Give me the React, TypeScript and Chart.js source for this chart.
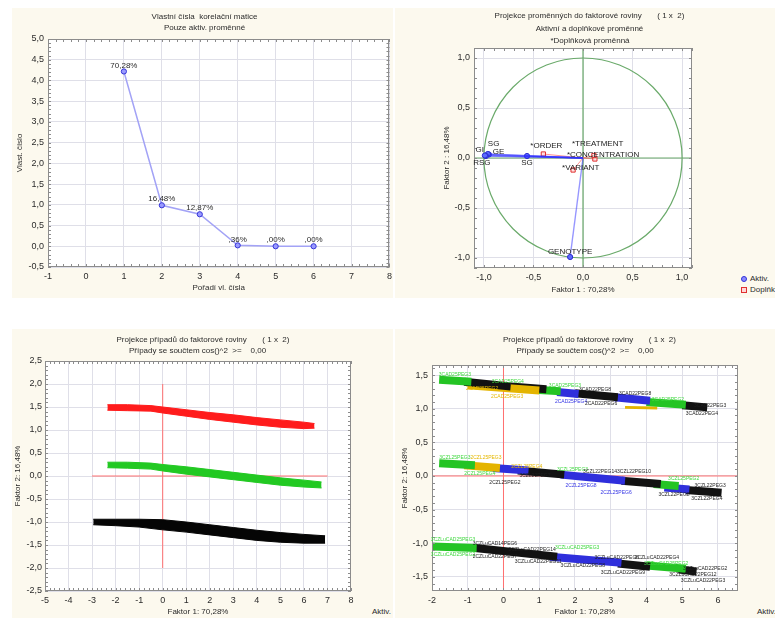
import React, { useEffect, useRef } from "react";
import { Chart, registerables } from "chart.js";

Chart.register(...registerables);

const FONT = '"Liberation Sans", Arial, Helvetica, sans-serif';
const INK = "#2b2b2b";
const CREAM = "#fcf9ee";
const GRID = "#dfdfe8";
const FRAME = "#8c8c8c";

// ===== Panel 1: eigenvalues =====
const eigenOrder = [1, 2, 3, 4, 5, 6];
const eigenValues = [4.217, 0.989, 0.772, 0.022, 0.0, 0.0];
const eigenPctLabels = ["70,28%", "16,48%", "12,87%", ",36%", ",00%", ",00%"];
const eigenXTicks = [-1, 0, 1, 2, 3, 4, 5, 6, 7, 8];
const eigenYTicks = [-0.5, 0, 0.5, 1, 1.5, 2, 2.5, 3, 3.5, 4, 4.5, 5];

// ===== Panel 2: variables projection =====
const activeNames = ["GI", "RSG", "SG", "GE", "SG", "GENOTYPE"];
const activeF1 = [-0.99, -0.98, -0.96, -0.95, -0.565, -0.13];
const activeF2 = [0.025, 0.02, 0.04, 0.035, 0.02, -0.99];
const supplNames = ["*ORDER", "*TREATMENT", "*CONCENTRATION", "*VARIANT"];
const supplF1 = [-0.4, 0.11, 0.12, -0.1];
const supplF2 = [0.04, 0.025, -0.01, -0.12];
const varTicks = [-1, -0.5, 0, 0.5, 1];

// ===== Panel 3: cases (three bands) =====
const caseXTicks = [-5, -4, -3, -2, -1, 0, 1, 2, 3, 4, 5, 6, 7, 8];
const caseYTicks = [-2.5, -2, -1.5, -1, -0.5, 0, 0.5, 1, 1.5, 2, 2.5];
const redF1 = [-2.35, -1.5, -0.5, 0, 1, 2, 3, 4, 5, 6, 6.45];
const redUpper = [1.55, 1.55, 1.53, 1.5, 1.44, 1.38, 1.33, 1.27, 1.22, 1.17, 1.14];
const redLower = [1.43, 1.42, 1.41, 1.37, 1.3, 1.23, 1.17, 1.11, 1.06, 1.03, 1.04];
const greenF1 = [-2.35, -1.5, -0.5, 0, 1, 2, 3, 4, 5, 6, 6.75];
const greenUpper = [0.3, 0.3, 0.28, 0.25, 0.2, 0.14, 0.08, 0.02, -0.04, -0.09, -0.13];
const greenLower = [0.18, 0.17, 0.15, 0.11, 0.04, -0.02, -0.08, -0.14, -0.2, -0.24, -0.26];
const blackF1 = [-2.95, -2, -1, 0, 1, 2, 3, 4, 5, 6, 6.9];
const blackUpper = [-0.94, -0.94, -0.94, -0.95, -1.0, -1.06, -1.12, -1.18, -1.23, -1.27, -1.3];
const blackLower = [-1.06, -1.08, -1.11, -1.17, -1.22, -1.28, -1.34, -1.4, -1.44, -1.46, -1.46];
const crossLines3 = [
  [0, -2, 0, 2],
  [-3, 0, 7, 0],
];

// ===== Panel 4: cases coloured by group =====
const case4XTicks = [-2, -1, 0, 1, 2, 3, 4, 5, 6];
const case4YTicks = [-1.5, -1, -0.5, 0, 0.5, 1, 1.5];
// segments: [startF1, startF2, endF1, endF2]
const topBandSegs = [
  [-1.8, 1.43, -0.9, 1.4],
  [-1.1, 1.4, 0.2, 1.33],
  [-1.0, 1.35, 1.0, 1.27],
  [0.2, 1.33, 1.2, 1.29],
  [1.0, 1.28, 1.6, 1.26],
  [1.5, 1.25, 2.1, 1.22],
  [2.0, 1.23, 3.2, 1.17],
  [3.1, 1.17, 4.1, 1.12],
  [4.0, 1.1, 5.1, 1.06],
  [3.4, 1.02, 4.3, 1.01],
  [5.0, 1.05, 5.7, 1.02],
];
const topBandGroups = ["g", "k", "y", "k", "g", "b", "k", "b", "g", "y", "k"];
const midBandSegs = [
  [-1.8, 0.19, -0.8, 0.16],
  [-1.1, 0.16, -0.1, 0.12],
  [-0.3, 0.12, 0.7, 0.08],
  [0.4, 0.08, 1.7, 0.02],
  [1.6, 0.02, 3.4, -0.07],
  [3.3, -0.07, 4.4, -0.12],
  [4.2, -0.12, 4.9, -0.15],
  [4.5, -0.17, 5.2, -0.2],
  [5.1, -0.21, 6.1, -0.25],
];
const midBandGroups = ["g", "y", "b", "k", "b", "k", "g", "b", "k"];
const lowBandSegs = [
  [-2.0, -1.05, -0.75, -1.07],
  [-0.8, -1.07, 1.5, -1.2],
  [1.3, -1.2, 3.3, -1.29],
  [3.2, -1.3, 4.1, -1.35],
  [4.0, -1.33, 5.1, -1.38],
  [4.9, -1.39, 5.4, -1.42],
];
const lowBandGroups = ["g", "k", "b", "k", "g", "k"];
const caseLabelText = [
  "3CAD25PEG3", "3CAD25PEG4", "3CAD25PEG3", "3CAD22PEG8", "3CAD22PEG8", "2CAD25PEG4",
  "2CAD22PEG6", "3CAD22PEG3", "3CAD22PEG4", "2CAD25PEG2", "2CAD25PEG3", "3CAD25PEG2",
  "3CZL25PEG3", "2CZL25PEG3", "2CZL25PEG4", "2CZL25PEG4", "2CZL25PEG2", "3CZL22PEG7",
  "3CZL25PEG3", "3CZL22PEG14", "3CZL22PEG10", "2CZL25PEG8", "2CZL25PEG6", "3CZL22PEG8",
  "3CZL22PEG3", "3CZL22PEG4", "3CZL25PEG2",
  "3CZLuCAD25PEG3", "3CZLuCAD25PEG2", "3CZLuCAD14PEG6", "2CZLuCAD22PEG14", "2CZLuCAD22PEG7",
  "3CZLuCAD25PEG3", "3CZLuCAD22PEG11", "3CZLuCAD22PEG8", "3CZLuCAD22PEG6", "3CZLuCAD22PEG4",
  "3CZLuCAD22PEG9", "3CZLuCAD22PEG2", "3CZLuCAD22PEG3", "3CZLuCAD22PEG12", "3CZLuCAD25PEG2",
];
const caseLabelF1 = [
  -1.36, 0.12, 1.72, 2.56, 3.68, 1.89, 2.73, 5.78, 5.55, -0.6, 0.1, 4.6,
  -1.36, -0.49, 0.65, -0.66, 0.04, 0.88, 1.93, 2.7, 3.65, 2.17, 3.15, 4.77, 5.78, 5.69, 5.04,
  -1.41, -1.41, -0.24, 0.8, -0.24, 2.06, 0.97, 2.22, 3.17, 4.29, 3.34, 5.64, 5.58, 5.3, 4.55,
];
const caseLabelF2 = [
  1.51, 1.41, 1.35, 1.29, 1.23, 1.11, 1.08, 1.04, 0.92, 1.3, 1.18, 1.13,
  0.28, 0.28, 0.14, 0.04, -0.1, 0.01, 0.1, 0.06, 0.06, -0.15, -0.24, -0.28, -0.15, -0.33, -0.04,
  -0.94, -1.17, -1.0, -1.09, -1.2, -1.06, -1.28, -1.34, -1.22, -1.22, -1.43, -1.37, -1.55, -1.47, -1.31,
];
const caseLabelGroup = [
  "g", "g", "g", "k", "k", "b", "k", "k", "k", "y", "y", "g",
  "g", "y", "y", "g", "k", "k", "g", "k", "k", "b", "b", "k", "k", "k", "g",
  "g", "g", "k", "k", "k", "g", "k", "k", "k", "k", "k", "k", "k", "k", "g",
];
const crossLines4 = [
  [0, -1.71, 0, 1.65],
  [-2, 0, 6.56, 0],
];

// ===== styles =====
const bandColor: Record<string, string> = { g: "#24c424", k: "#121212", y: "#e4b400", b: "#2f2fdc" };
const labelColor: Record<string, string> = { g: "#3fd83f", k: "#1e1e1e", y: "#e6b800", b: "#3434e6" };
const activeLabelPos = [
  { dx: -1, dy: -6, align: "right" },
  { dx: -4, dy: 7, align: "center" },
  { dx: 0, dy: -10, align: "left" },
  { dx: 4, dy: -3, align: "left" },
  { dx: 0, dy: 7, align: "center" },
  { dx: 0, dy: -5, align: "center" },
];
const supplLabelPos = [
  { dx: 3, dy: -8, align: "center" },
  { dx: -22, dy: -11.5, align: "left" },
  { dx: -28, dy: -4, align: "left" },
  { dx: -11, dy: -2, align: "left" },
];

const fmt1 = (v: number) => v.toFixed(1).replace(".", ",");
const fmt0 = (v: number) => String(Math.round(v));
const zip = (xs: number[], ys: number[]) => xs.map((x, i) => ({ x, y: ys[i] }));

function makeAxis(o: any) {
  return {
    type: "linear",
    min: o.min,
    max: o.max,
    afterBuildTicks: (ax: any) => {
      ax.ticks = o.ticks.map((v: number) => ({ value: v }));
    },
    afterFit: (ax: any) => {
      if (o.horizontal) ax.height = o.size;
      else ax.width = o.size;
    },
    grid: { color: GRID, lineWidth: 1, drawTicks: false },
    border: { display: false },
    ticks: {
      padding: o.tickPad,
      color: INK,
      font: { family: FONT, size: 9 },
      callback: (v: any) => o.fmt(Number(v)),
      autoSkip: false,
      maxRotation: 0,
      minRotation: 0,
    },
    title: {
      display: true,
      text: o.title,
      color: INK,
      font: { family: FONT, size: 8 },
      padding: o.titlePad,
    },
  };
}

const bgPlugin = {
  id: "plotBg",
  beforeDraw(chart: any) {
    const { ctx, chartArea: a } = chart;
    ctx.save();
    ctx.fillStyle = "#ffffff";
    ctx.fillRect(a.left, a.top, a.right - a.left, a.bottom - a.top);
    ctx.restore();
  },
};

function framePlugin(minorX: number, minorY: number) {
  return {
    id: "frame",
    afterDatasetsDraw(chart: any) {
      const { ctx, chartArea: a, scales } = chart;
      ctx.save();
      ctx.strokeStyle = FRAME;
      ctx.lineWidth = 1;
      ctx.strokeRect(Math.round(a.left) + 0.5, Math.round(a.top) + 0.5, Math.round(a.right - a.left) - 1, Math.round(a.bottom - a.top) - 1);
      ctx.beginPath();
      const sx = scales.x;
      for (let i = Math.ceil(sx.min / minorX - 1e-9); i <= Math.floor(sx.max / minorX + 1e-9); i++) {
        const px = Math.round(sx.getPixelForValue(i * minorX)) + 0.5;
        ctx.moveTo(px, a.bottom);
        ctx.lineTo(px, a.bottom - 3);
        ctx.moveTo(px, a.top);
        ctx.lineTo(px, a.top + 3);
      }
      const sy = scales.y;
      for (let i = Math.ceil(sy.min / minorY - 1e-9); i <= Math.floor(sy.max / minorY + 1e-9); i++) {
        const py = Math.round(sy.getPixelForValue(i * minorY)) + 0.5;
        ctx.moveTo(a.left, py);
        ctx.lineTo(a.left + 3, py);
        ctx.moveTo(a.right, py);
        ctx.lineTo(a.right - 3, py);
      }
      ctx.stroke();
      ctx.restore();
    },
  };
}

function linesPlugin(lines: number[][], color: string, width: number) {
  return {
    id: "refLines",
    beforeDatasetsDraw(chart: any) {
      const { ctx, scales } = chart;
      ctx.save();
      ctx.strokeStyle = color;
      ctx.lineWidth = width;
      ctx.beginPath();
      lines.forEach(([x0, y0, x1, y1]) => {
        ctx.moveTo(scales.x.getPixelForValue(x0), scales.y.getPixelForValue(y0));
        ctx.lineTo(scales.x.getPixelForValue(x1), scales.y.getPixelForValue(y1));
      });
      ctx.stroke();
      ctx.restore();
    },
  };
}

function circlePlugin(color: string) {
  return {
    id: "unitCircle",
    beforeDatasetsDraw(chart: any) {
      const { ctx, scales } = chart;
      const cx = scales.x.getPixelForValue(0);
      const cy = scales.y.getPixelForValue(0);
      const rx = scales.x.getPixelForValue(1) - cx;
      const ry = cy - scales.y.getPixelForValue(1);
      ctx.save();
      ctx.strokeStyle = color;
      ctx.lineWidth = 1.2;
      ctx.beginPath();
      ctx.ellipse(cx, cy, rx, ry, 0, 0, Math.PI * 2);
      ctx.stroke();
      ctx.restore();
    },
  };
}

function labelsPlugin(items: any[], size: number) {
  return {
    id: "pointLabels",
    afterDatasetsDraw(chart: any) {
      const { ctx, scales } = chart;
      ctx.save();
      ctx.font = `${size}px ${FONT}`;
      ctx.textBaseline = "middle";
      items.forEach((it) => {
        ctx.fillStyle = it.color;
        ctx.textAlign = it.align || "center";
        ctx.fillText(it.text, scales.x.getPixelForValue(it.x) + (it.dx || 0), scales.y.getPixelForValue(it.y) + (it.dy || 0));
      });
      ctx.restore();
    },
  };
}

const baseOptions = (padding: any) => ({
  responsive: false,
  animation: false,
  events: [],
  layout: { padding },
  plugins: { legend: { display: false }, tooltip: { enabled: false } },
});

function eigenConfig(): any {
  const items = eigenPctLabels.map((t, i) => ({ text: t, x: eigenOrder[i], y: eigenValues[i], dx: 0, dy: -6, align: "center", color: INK }));
  return {
    type: "line",
    data: {
      datasets: [
        {
          data: zip(eigenOrder, eigenValues),
          borderColor: "#a3a3f6",
          borderWidth: 1.5,
          pointRadius: 2.6,
          pointBackgroundColor: "#9a9aff",
          pointBorderColor: "#3535d8",
          pointBorderWidth: 1,
          tension: 0,
          fill: false,
        },
      ],
    },
    options: {
      ...baseOptions({ top: 31, right: 6, bottom: 0, left: 0 }),
      scales: {
        x: makeAxis({ min: -1, max: 8, ticks: eigenXTicks, fmt: fmt0, title: "Pořadí vl. čísla", titlePad: { top: 0, bottom: 5 }, tickPad: 4, size: 31, horizontal: true }),
        y: makeAxis({ min: -0.5, max: 5, ticks: eigenYTicks, fmt: fmt1, title: "Vlast. číslo", titlePad: { top: 3, bottom: 0 }, tickPad: 4, size: 36, horizontal: false }),
      },
    },
    plugins: [bgPlugin, framePlugin(0.2, 0.1), labelsPlugin(items, 8)],
  };
}

function variablesConfig(): any {
  const datasets: any[] = [];
  activeNames.forEach((_, i) => {
    datasets.push({
      data: [{ x: 0, y: 0 }, { x: activeF1[i], y: activeF2[i] }],
      borderColor: "rgba(45,45,255,0.5)",
      borderWidth: 1.4,
      pointRadius: [0, 2.6],
      pointBackgroundColor: "#5c6cff",
      pointBorderColor: "#2a2ad0",
      pointBorderWidth: 1,
      fill: false,
    });
  });
  supplNames.forEach((_, i) => {
    datasets.push({
      data: [{ x: 0, y: 0 }, { x: supplF1[i], y: supplF2[i] }],
      borderColor: "rgba(255,90,90,0.65)",
      borderWidth: 1,
      pointStyle: "rect",
      pointRadius: [0, 3],
      pointBackgroundColor: "rgba(255,215,215,0.7)",
      pointBorderColor: "#e03030",
      pointBorderWidth: 1,
      fill: false,
    });
  });
  const items = [
    ...activeNames.map((t, i) => ({ text: t, x: activeF1[i], y: activeF2[i], ...activeLabelPos[i], color: "#222" })),
    ...supplNames.map((t, i) => ({ text: t, x: supplF1[i], y: supplF2[i], ...supplLabelPos[i], color: "#222" })),
  ];
  return {
    type: "line",
    data: { datasets },
    options: {
      ...baseOptions({ top: 40, right: 13, bottom: 0, left: 40 }),
      scales: {
        x: makeAxis({ min: -1.1, max: 1.1, ticks: varTicks, fmt: fmt1, title: "Faktor 1 : 70,28%", titlePad: { top: 0, bottom: 3 }, tickPad: 4, size: 30, horizontal: true }),
        y: makeAxis({ min: -1.1, max: 1.1, ticks: varTicks, fmt: fmt1, title: "Faktor 2 : 16,48%", titlePad: { top: 7, bottom: 0 }, tickPad: 4, size: 39, horizontal: false }),
      },
    },
    plugins: [
      bgPlugin,
      circlePlugin("#6aaa6a"),
      linesPlugin([[0, -1.1, 0, 1.1], [-1.1, 0, 1.1, 0]], "#6aaa6a", 1.2),
      framePlugin(0.1, 0.1),
      labelsPlugin(items, 8),
    ],
  };
}

function band(xs: number[], lower: number[], upper: number[], color: string) {
  return [
    { data: zip(xs, lower), borderColor: color, borderWidth: 1, pointRadius: 0, fill: false },
    { data: zip(xs, upper), borderColor: color, borderWidth: 1, pointRadius: 0, fill: "-1", backgroundColor: color },
  ];
}

function casesConfig(): any {
  return {
    type: "line",
    data: {
      datasets: [
        ...band(redF1, redLower, redUpper, "#ff1c1c"),
        ...band(greenF1, greenLower, greenUpper, "#22c922"),
        ...band(blackF1, blackLower, blackUpper, "#050505"),
      ],
    },
    options: {
      ...baseOptions({ top: 32, right: 6, bottom: 0, left: 0 }),
      scales: {
        x: makeAxis({ min: -5, max: 8, ticks: caseXTicks, fmt: fmt0, title: "Faktor 1: 70,28%", titlePad: { top: 0, bottom: 1 }, tickPad: 4.5, size: 27, horizontal: true }),
        y: makeAxis({ min: -2.5, max: 2.5, ticks: caseYTicks, fmt: fmt1, title: "Faktor 2: 16,48%", titlePad: { top: 1, bottom: 0 }, tickPad: 3, size: 33, horizontal: false }),
      },
    },
    plugins: [bgPlugin, linesPlugin(crossLines3, "#ff7070", 1), framePlugin(0.2, 0.1)],
  };
}

function segDatasets(segs: number[][], groups: string[]) {
  return segs.map((s, i) => ({
    data: [{ x: s[0], y: s[1] }, { x: s[2], y: s[3] }],
    borderColor: bandColor[groups[i]],
    borderWidth: groups[i] === "y" && s[1] < 1.1 && s[1] > 0.9 ? 3 : 8,
    borderCapStyle: "butt",
    pointRadius: 0,
    fill: false,
  }));
}

function cases4Config(): any {
  const items = caseLabelText.map((t, i) => ({ text: t, x: caseLabelF1[i], y: caseLabelF2[i], dx: 0, dy: 0, align: "center", color: labelColor[caseLabelGroup[i]] }));
  return {
    type: "line",
    data: {
      datasets: [
        ...segDatasets(topBandSegs, topBandGroups),
        ...segDatasets(midBandSegs, midBandGroups),
        ...segDatasets(lowBandSegs, lowBandGroups),
      ],
    },
    options: {
      ...baseOptions({ top: 36, right: 7, bottom: 0, left: 0 }),
      scales: {
        x: makeAxis({ min: -2, max: 6.56, ticks: case4XTicks, fmt: fmt0, title: "Faktor 1: 70,28%", titlePad: { top: 0, bottom: 1 }, tickPad: 4, size: 27, horizontal: true }),
        y: makeAxis({ min: -1.71, max: 1.65, ticks: case4YTicks, fmt: fmt1, title: "Faktor 2: 16,48%", titlePad: { top: 5, bottom: 0 }, tickPad: 4, size: 37, horizontal: false }),
      },
    },
    plugins: [bgPlugin, linesPlugin(crossLines4, "#ff7070", 1), framePlugin(0.2, 0.1), labelsPlugin(items, 5)],
  };
}

function ChartCanvas({ make, left, top, width, height }: any) {
  const ref = useRef<HTMLCanvasElement>(null);
  useEffect(() => {
    const chart = new Chart(ref.current as HTMLCanvasElement, make());
    return () => chart.destroy();
  }, []);
  return (
    <canvas
      ref={ref}
      width={width}
      height={height}
      style={{ position: "absolute", left, top, width, height }}
    />
  );
}

function Panel({ left, top, width, height, children }: any) {
  return (
    <div style={{ position: "absolute", left, top, width, height, background: CREAM, overflow: "hidden" }}>
      {children}
    </div>
  );
}

function Line({ text, cx, cy }: any) {
  return (
    <div
      style={{
        position: "absolute",
        left: cx - 200,
        top: cy - 6,
        width: 400,
        height: 12,
        lineHeight: "12px",
        textAlign: "center",
        fontSize: 8,
        color: INK,
        whiteSpace: "pre",
        zIndex: 2,
      }}
    >
      {text}
    </div>
  );
}

function Txt({ text, x, cy }: any) {
  return (
    <div style={{ position: "absolute", left: x, top: cy - 6, height: 12, lineHeight: "12px", fontSize: 8, color: INK, whiteSpace: "pre", zIndex: 2 }}>
      {text}
    </div>
  );
}

export default function App() {
  return (
    <div style={{ position: "absolute", left: 0, top: 0, width: 775, height: 618, background: "#fff", overflow: "hidden", fontFamily: FONT }}>
      <Panel left={12} top={8} width={381} height={290}>
        <ChartCanvas make={eigenConfig} left={0} top={0} width={384} height={290} />
        <Line text="Vlastní čísla  korelační matice" cx={192.5} cy={9} />
        <Line text="Pouze aktiv. proměnné" cx={192.5} cy={20} />
      </Panel>
      <Panel left={395} top={8} width={380} height={290}>
        <ChartCanvas make={variablesConfig} left={0} top={0} width={310} height={290} />
        <Line text="Projekce proměnných do faktorové roviny       ( 1 x  2)" cx={194.5} cy={8} />
        <Line text="Aktivní a doplňkové proměnné" cx={194.5} cy={21} />
        <Line text="*Doplňková proměnná" cx={195} cy={32.5} />
        <div style={{ position: "absolute", left: 346, top: 268, width: 6, height: 6, borderRadius: 3, background: "#8c8cff", border: "1px solid #3030d8", boxSizing: "border-box" }} />
        <Txt text="Aktiv." x={355} cy={271} />
        <div style={{ position: "absolute", left: 346, top: 279, width: 6, height: 6, background: "#ffd8d8", border: "1px solid #e03030", boxSizing: "border-box" }} />
        <Txt text="Doplňk." x={355} cy={282} />
      </Panel>
      <Panel left={12} top={329} width={381} height={289}>
        <ChartCanvas make={casesConfig} left={0} top={0} width={346} height={289} />
        <Line text="Projekce případů do faktorové roviny       ( 1 x  2)" cx={191} cy={11} />
        <Line text="Případy se součtem cos()^2  >=    0,00" cx={185.5} cy={22} />
        <Txt text="Aktiv." x={360} cy={283} />
      </Panel>
      <Panel left={395} top={329} width={380} height={289}>
        <ChartCanvas make={cases4Config} left={0} top={0} width={350} height={289} />
        <Line text="Projekce případů do faktorové roviny       ( 1 x  2)" cx={194.5} cy={11} />
        <Line text="Případy se součtem cos()^2  >=    0,00" cx={190} cy={22} />
        <Txt text="Aktiv." x={362} cy={283} />
      </Panel>
    </div>
  );
}
